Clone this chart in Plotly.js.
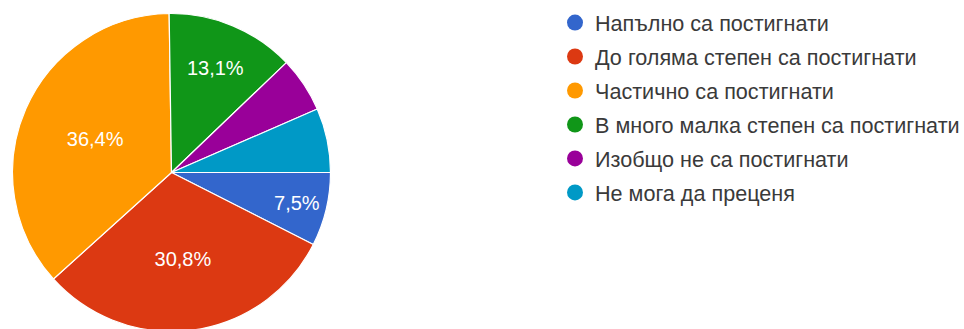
<!DOCTYPE html>
<html>
<head>
<meta charset="utf-8">
<script src="https://cdn.plot.ly/plotly-3.0.1.min.js"></script>
<style>
  html, body { margin: 0; padding: 0; overflow: hidden; background: #ffffff; }
  #chart { width: 964px; height: 345px; }
</style>
</head>
<body>
<div id="chart"></div>
<script>
const categories = [
  "Напълно са постигнати",
  "До голяма степен са постигнати",
  "Частично са постигнати",
  "В много малка степен са постигнати",
  "Изобщо не са постигнати",
  "Не мога да преценя"
];
const counts = [8, 33, 39, 14, 6, 7];
const sliceColors = ["#3366cc", "#dc3912", "#ff9900", "#109618", "#990099", "#0099c6"];
const showLabel = [true, true, true, true, false, false];

const FONT = '"Liberation Sans", Arial, sans-serif';

const pieTrace = {
  type: "pie",
  labels: categories,
  values: counts,
  sort: false,
  direction: "clockwise",
  rotation: 90,
  marker: { colors: sliceColors, line: { color: "#ffffff", width: 1.2 } },
  texttemplate: showLabel.map(s => s ? "%{percent:.1%}" : ""),
  textposition: "inside",
  insidetextorientation: "horizontal",
  insidetextfont: { family: FONT, size: 20, color: "#ffffff" },
  hoverinfo: "label+percent",
  showlegend: false,
  domain: { x: [12.5 / 964, 330.5 / 964], y: [0, 1] }
};

const legendTraces = categories.map((name, i) => ({
  type: "scatter",
  mode: "markers",
  x: [null],
  y: [null],
  name: name,
  legendgroup: "g" + i,
  marker: { symbol: "circle", size: 16, color: sliceColors[i] },
  hoverinfo: "skip",
  showlegend: true
}));

const layout = {
  width: 964,
  height: 345,
  margin: { l: 0, r: 0, t: 0, b: 0, autoexpand: false },
  paper_bgcolor: "#ffffff",
  plot_bgcolor: "#ffffff",
  separators: ",.",
  showlegend: true,
  xaxis: { visible: false },
  yaxis: { visible: false },
  legend: {
    x: 555 / 964,
    y: 1 - 2 / 345,
    xanchor: "left",
    yanchor: "top",
    orientation: "v",
    tracegroupgap: 2.9,
    itemwidth: 30,
    bgcolor: "rgba(0,0,0,0)",
    font: { family: FONT, size: 21.6, color: "#3a3a3a" }
  }
};

Plotly.newPlot("chart", [pieTrace, ...legendTraces], layout, { staticPlot: true, displayModeBar: false });
</script>
</body>
</html>
